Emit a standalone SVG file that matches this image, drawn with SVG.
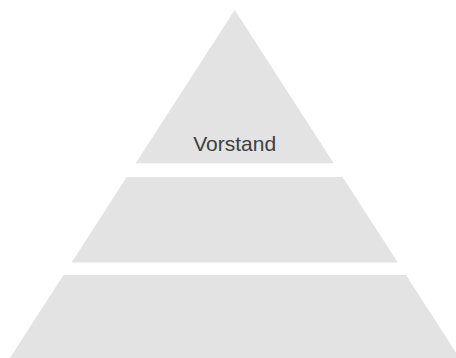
<svg xmlns="http://www.w3.org/2000/svg" width="456" height="358" viewBox="0 0 456 358">
<style>
.tier{fill:#e3e3e3;}
.lbl{font-family:"Liberation Sans",Arial,sans-serif;font-size:21px;fill:#404040;text-anchor:middle;}
</style>
<rect width="456" height="358" fill="#ffffff"/>
<g id="tier1">
<polygon class="tier" points="234.7,10 333.7,163.3 135.7,163.3"/>
<text class="lbl" x="234.7" y="150.7">Vorstand</text>
</g>
<g id="tier2">
<polygon class="tier" points="126.8,177 342.6,177 397.8,262.5 71.6,262.5"/>
</g>
<g id="tier3">
<polygon class="tier" points="63.5,275 405.9,275 459.5,358 9.9,358"/>
</g>
<g id="connectors"></g>
</svg>
